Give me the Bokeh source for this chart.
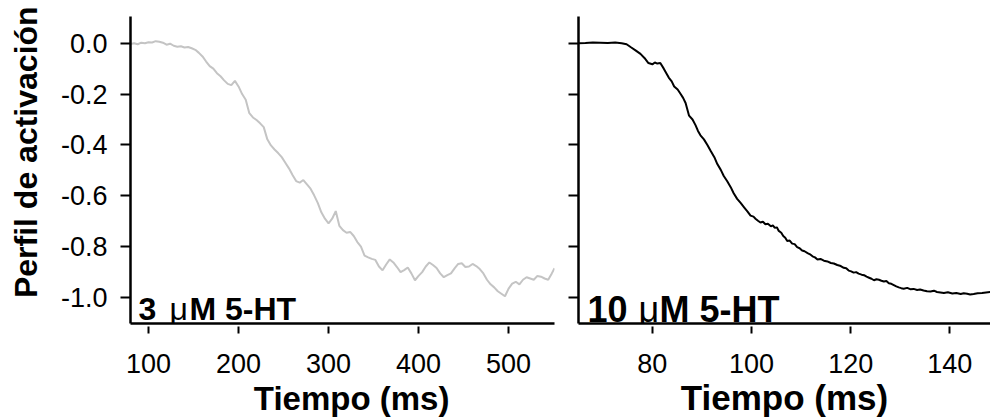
from bokeh.plotting import figure
from bokeh.layouts import row
from bokeh.models import (Range1d, Label, FixedTicker, NumeralTickFormatter,
                          CustomJSTickFormatter)
from bokeh.embed import file_html
from bokeh.resources import INLINE

# ---- data: activation profiles (normalised) vs time ----
time_3uM = [80, 84, 88, 92, 96, 100, 104, 108, 112, 116, 120, 124, 128, 132, 136,
            140, 144, 148, 152, 156, 160, 164, 168, 172, 176, 180, 184, 188, 192,
            196, 200, 204, 208, 212, 216, 220, 224, 228, 232, 236, 240, 244, 248,
            252, 256, 260, 264, 268, 272, 276, 280, 284, 288, 292, 296, 300, 304,
            308, 312, 316, 320, 324, 328, 332, 336, 340, 344, 348, 352, 356, 360,
            364, 368, 372, 376, 380, 384, 388, 392, 396, 400, 404, 408, 412, 416,
            420, 424, 428, 432, 436, 440, 444, 448, 452, 456, 460, 464, 468, 472,
            476, 480, 484, 488, 492, 496, 500, 504, 508, 512, 516, 520, 524, 528,
            532, 536, 540, 544, 548, 551]
act_3uM = [-0.003, 0.000, -0.004, 0.002, 0.000, 0.004, 0.003, 0.008, 0.006, 0.002,
           -0.006, -0.002, -0.010, -0.014, -0.012, -0.017, -0.015, -0.020, -0.026,
           -0.038, -0.052, -0.072, -0.090, -0.100, -0.118, -0.130, -0.146, -0.160,
           -0.165, -0.148, -0.170, -0.200, -0.222, -0.275, -0.292, -0.302, -0.315,
           -0.330, -0.378, -0.402, -0.418, -0.432, -0.448, -0.470, -0.492, -0.518,
           -0.542, -0.548, -0.538, -0.555, -0.572, -0.598, -0.628, -0.665, -0.690,
           -0.708, -0.690, -0.660, -0.718, -0.735, -0.745, -0.742, -0.758, -0.782,
           -0.800, -0.835, -0.842, -0.848, -0.852, -0.878, -0.893, -0.870, -0.850,
           -0.862, -0.880, -0.900, -0.892, -0.882, -0.905, -0.932, -0.915, -0.900,
           -0.878, -0.862, -0.872, -0.884, -0.905, -0.920, -0.912, -0.905, -0.885,
           -0.868, -0.865, -0.880, -0.878, -0.868, -0.876, -0.888, -0.905, -0.930,
           -0.948, -0.960, -0.975, -0.985, -0.995, -0.965, -0.945, -0.938, -0.948,
           -0.930, -0.920, -0.925, -0.930, -0.915, -0.918, -0.925, -0.930, -0.905,
           -0.885]

time_10uM = [65.1, 66.5, 68, 69.5, 71, 72.5, 73.8, 74.8, 75.6, 76.6, 77.6, 78.4,
             79.2, 80, 80.5, 81, 81.6, 82.3, 83.3, 83.9, 84.4, 85.1, 85.7, 86.2,
             86.7, 87.4, 88.1, 88.7, 89.2, 89.7, 90.4, 91.1, 91.8, 92.5, 93.1, 93.8,
             94.4, 95.1, 95.8, 96.4, 97.1, 97.8, 98.5, 99.2, 99.8, 100.4, 100.8,
             101.3, 101.8, 102.3, 102.8, 103.3, 103.9, 104.3, 104.7, 105.1, 105.5,
             106, 106.4, 106.8, 107.2, 107.7, 108.2, 108.7, 109.2, 109.7, 110.2,
             110.7, 111.3, 111.8, 112.3, 112.8, 113.3, 113.9, 114.6, 115.3, 116,
             116.6, 117.3, 118, 118.6, 119.1, 119.6, 120.1, 120.6, 121.1, 121.6,
             122.2, 122.7, 123.2, 123.7, 124.2, 124.7, 125.2, 125.7, 126.2, 126.7,
             127.2, 127.7, 128.2, 128.7, 129.2, 129.7, 130.2, 130.7, 131.4, 132,
             132.7, 133.4, 134, 134.7, 135.4, 136.1, 136.8, 137.4, 138.1, 138.8,
             139.6, 140.5, 141.3, 142.2, 142.8, 143.5, 144.1, 144.8, 145.6, 146.5,
             147.3, 148.2]
act_10uM = [0.000, 0.001, 0.003, 0.002, 0.001, 0.003, 0.000, -0.004, -0.015, -0.028,
            -0.042, -0.058, -0.078, -0.083, -0.076, -0.080, -0.078, -0.100, -0.135,
            -0.150, -0.170, -0.182, -0.200, -0.215, -0.235, -0.285, -0.300, -0.322,
            -0.345, -0.362, -0.378, -0.400, -0.425, -0.448, -0.475, -0.498, -0.522,
            -0.543, -0.566, -0.590, -0.612, -0.628, -0.645, -0.662, -0.678, -0.682,
            -0.690, -0.698, -0.705, -0.702, -0.712, -0.710, -0.720, -0.716, -0.726,
            -0.724, -0.738, -0.745, -0.758, -0.765, -0.778, -0.776, -0.788, -0.790,
            -0.802, -0.806, -0.815, -0.818, -0.825, -0.830, -0.838, -0.842, -0.850,
            -0.848, -0.855, -0.858, -0.864, -0.866, -0.872, -0.876, -0.883, -0.885,
            -0.894, -0.897, -0.902, -0.900, -0.906, -0.910, -0.912, -0.918, -0.922,
            -0.926, -0.932, -0.928, -0.930, -0.934, -0.937, -0.935, -0.944, -0.946,
            -0.951, -0.956, -0.960, -0.963, -0.965, -0.962, -0.967, -0.966, -0.970,
            -0.968, -0.972, -0.975, -0.976, -0.973, -0.978, -0.980, -0.982, -0.979,
            -0.984, -0.982, -0.986, -0.983, -0.985, -0.988, -0.986, -0.983, -0.982,
            -0.980, -0.978]

y_ticks = [0.0, -0.2, -0.4, -0.6, -0.8, -1.0]
x_ticks_3uM = [100, 200, 300, 400, 500]
x_ticks_10uM = [80, 100, 120, 140]

FONT = "Liberation Sans"
Y_RANGE = (-1.102, 0.105)
NBSP = "\u00a0"


def base_panel(width, x_range, border_left, border_right, x_ticks):
    p = figure(width=width, height=419,
               x_range=Range1d(*x_range), y_range=Range1d(*Y_RANGE),
               output_backend="svg", toolbar_location=None,
               min_border_left=border_left, min_border_right=border_right,
               min_border_top=16, min_border_bottom=96)
    p.xgrid.visible = False
    p.ygrid.visible = False
    p.outline_line_color = None
    p.background_fill_color = "white"
    p.border_fill_color = "white"
    for ax in (p.xaxis[0], p.yaxis[0]):
        ax.axis_line_width = 2.5
        ax.axis_line_color = "black"
        ax.major_tick_line_width = 2
        ax.major_tick_line_color = "black"
        ax.minor_tick_line_color = None
        ax.major_label_text_font = FONT
        ax.major_label_text_font_size = "27px"
        ax.major_label_text_color = "black"
    p.xaxis.ticker = FixedTicker(ticks=x_ticks)
    p.xaxis.major_tick_in = -3
    p.xaxis.major_tick_out = 10
    p.xaxis.major_label_standoff = 20
    p.xaxis.axis_label_text_font = FONT
    p.xaxis.axis_label_text_font_style = "bold"
    p.xaxis.axis_label_text_color = "black"
    p.yaxis.ticker = FixedTicker(ticks=y_ticks)
    p.yaxis.major_tick_in = 0
    p.yaxis.major_tick_out = 10
    return p


def add_tag(p, x, y, lead, size, mu_dx, rest_dx):
    common = dict(x=x, y=y, text_font=FONT, text_font_size=size,
                  text_color="black", text_baseline="alphabetic", text_align="left")
    p.add_layout(Label(text=lead, text_font_style="bold", **common))
    p.add_layout(Label(text="\u03bc", x_offset=mu_dx, **common))
    p.add_layout(Label(text="M 5-HT", x_offset=rest_dx, text_font_style="bold", **common))


# left panel: 3 uM
p1 = base_panel(560, (80, 551), 130, 6, x_ticks_3uM)
p1.yaxis.formatter = NumeralTickFormatter(format="0.0")
p1.yaxis.major_label_standoff = 13
p1.yaxis.axis_label = NBSP * 4 + "Perfil de activación"
p1.yaxis.axis_label_text_font = FONT
p1.yaxis.axis_label_text_font_size = "32px"
p1.yaxis.axis_label_text_font_style = "bold"
p1.yaxis.axis_label_text_color = "black"
p1.yaxis.axis_label_standoff = 14
p1.xaxis.axis_label = NBSP * 2 + "Tiempo (ms)"
p1.xaxis.axis_label_text_font_size = "33px"
p1.xaxis.axis_label_standoff = 4
p1.line(time_3uM, act_3uM, line_color="#c4c4c4", line_width=2)
add_tag(p1, 88.9, -1.046, "3 ", "32px", 31, 51)

# right panel: 10 uM (shared y scale, tick marks only)
p2 = base_panel(430, (65.1, 148.2), 18, 0, x_ticks_10uM)
p2.yaxis.formatter = CustomJSTickFormatter(code="return ''")
p2.yaxis.major_label_standoff = 0
p2.xaxis.axis_label = "Tiempo (ms)"
p2.xaxis.axis_label_text_font_size = "35px"
p2.xaxis.axis_label_standoff = 2
p2.line(time_10uM, act_10uM, line_color="black", line_width=2)
add_tag(p2, 66.9, -1.046, "10 ", "36px", 51, 72)

layout = row(p1, p2)
open("out.html", "w").write(file_html(layout, INLINE))
